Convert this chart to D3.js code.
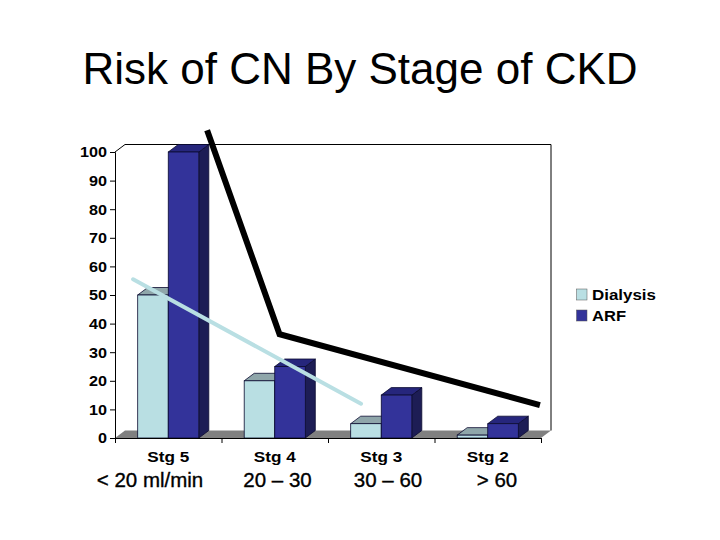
<!DOCTYPE html>
<html>
<head>
<meta charset="utf-8">
<script src="https://cdn.jsdelivr.net/npm/d3@7"></script>
<style>
  html, body { margin: 0; padding: 0; background: #fff; }
  text { font-family: "Liberation Sans", Arial, sans-serif; fill: #000; }
</style>
</head>
<body>
<div id="chart"></div>
<script>
const stages = ['Stg 5', 'Stg 4', 'Stg 3', 'Stg 2'];
const ranges = ['< 20 ml/min', '20 – 30', '30 – 60', '> 60'];
const dialysis = [50, 20, 5, 1];
const arf = [100, 25, 15, 5];
const yTicks = [0, 10, 20, 30, 40, 50, 60, 70, 80, 90, 100];
const seriesNames = ['Dialysis', 'ARF'];

// hand drawn trend lines on the slide, x in category units, y in axis units
const blackLineX = [0.865, 1.545, 3.99];
const blackLineY = [107.6, 36.3, 11.5];
const blueLineX = [0.17, 2.31];
const blueLineY = [55.5, 12];

const width = 720, height = 540;
const colorDialysis = '#b9dfe3', colorDialysisTop = '#8fa6aa';
const colorArf = '#33339a', colorArfTop = '#26267c', colorArfSide = '#1d1d55';
const depthX = 10, depthY = 7.5;

const svg = d3.select('#chart')
    .append('svg')
    .attr('width', width)
    .attr('height', height)
    .style('display', 'block');

const xScale = d3.scaleBand().domain(stages).range([115, 541]);
const xPos = d3.scaleLinear().domain([0, 4]).range([115, 541]);
const seriesScale = d3.scaleBand().domain(seriesNames).range([22.7, 83.8]);
const yScale = d3.scaleLinear().domain([0, 100]).range([438, 152]);

/* Title */
svg.append('text')
    .text('Risk of CN By Stage of CKD')
    .attr('x', 360)
    .attr('y', 84)
    .attr('text-anchor', 'middle')
    .style('font-size', '44px');

/* Floor */
const y0 = yScale(0);
svg.append('path')
    .attr('d', d3.line()([[115, y0], [115 + depthX, y0 - depthY], [541 + depthX, y0 - depthY], [541, y0]]) + 'Z')
    .attr('fill', '#808080');

/* Back wall outline */
const yTop = yScale(100);
svg.append('path')
    .attr('d', d3.line()([[115, yTop], [115 + depthX, yTop - depthY], [541 + depthX, yTop - depthY], [541 + depthX, y0 - depthY]]))
    .attr('fill', 'none')
    .attr('stroke', '#000')
    .attr('stroke-width', 1);

/* Bars */
function drawBar(stage, name, value, front, top, side) {
    const x = xScale(stage) + seriesScale(name);
    const w = seriesScale.bandwidth();
    const y = yScale(value);
    const g = svg.append('g').attr('stroke', '#0a0a30').attr('stroke-width', 0.8);
    g.append('path')
        .attr('d', d3.line()([[x + w, y], [x + w + depthX, y - depthY], [x + w + depthX, y0 - depthY], [x + w, y0]]) + 'Z')
        .attr('fill', side);
    g.append('path')
        .attr('d', d3.line()([[x, y], [x + depthX, y - depthY], [x + w + depthX, y - depthY], [x + w, y]]) + 'Z')
        .attr('fill', top);
    g.append('rect')
        .attr('x', x)
        .attr('y', y)
        .attr('width', w)
        .attr('height', y0 - y)
        .attr('fill', front);
}

stages.forEach((s, i) => {
    drawBar(s, 'Dialysis', dialysis[i], colorDialysis, colorDialysisTop, colorDialysisTop);
    drawBar(s, 'ARF', arf[i], colorArf, colorArfTop, colorArfSide);
});

/* y axis */
const yAxis = d3.axisLeft(yScale).tickValues(yTicks).tickSize(5).tickPadding(3);
svg.append('g')
    .attr('transform', 'translate(115,0)')
    .call(yAxis)
    .call(g => g.selectAll('path, line').attr('stroke', '#000'))
    .selectAll('text')
    .attr('textLength', d => String(d).length * 9)
    .attr('lengthAdjust', 'spacingAndGlyphs')
    .style('font-size', '15.5px')
    .style('font-weight', 'bold');

/* x axis */
const xAxis = d3.axisBottom(xPos).tickValues([0, 1, 2, 3, 4]).tickSize(5).tickFormat('');
svg.append('g')
    .attr('transform', `translate(0,${y0})`)
    .call(xAxis)
    .call(g => g.selectAll('path, line').attr('stroke', '#000'));

/* Stage labels */
svg.selectAll('.stage')
    .data(stages)
    .enter()
    .append('text')
    .attr('class', 'stage')
    .text(d => d)
    .attr('x', d => xScale(d) + xScale.bandwidth() / 2)
    .attr('y', 462)
    .attr('text-anchor', 'middle')
    .attr('textLength', 42)
    .attr('lengthAdjust', 'spacingAndGlyphs')
    .style('font-size', '15.5px')
    .style('font-weight', 'bold');

/* eGFR labels were placed by hand on the slide */
const rangeX = d3.scaleOrdinal().domain(ranges).range([150, 277.5, 388, 497]);
svg.selectAll('.range')
    .data(ranges)
    .enter()
    .append('text')
    .attr('class', 'range')
    .text(d => d)
    .attr('x', d => rangeX(d))
    .attr('y', 487)
    .attr('text-anchor', 'middle')
    .attr('stroke', '#000')
    .attr('stroke-width', 0.35)
    .style('font-size', '20.5px');

/* Trend lines */
const lineGen = d3.line().x(d => xPos(d[0])).y(d => yScale(d[1]));
svg.append('path')
    .attr('d', lineGen(d3.zip(blueLineX, blueLineY)))
    .attr('fill', 'none')
    .attr('stroke', colorDialysis)
    .attr('stroke-width', 4)
    .attr('stroke-linecap', 'round');
svg.append('path')
    .attr('d', lineGen(d3.zip(blackLineX, blackLineY)))
    .attr('fill', 'none')
    .attr('stroke', '#000')
    .attr('stroke-width', 6)
    .attr('stroke-linejoin', 'miter')
    .attr('stroke-linecap', 'butt');

/* Legend */
const legendY = d3.scalePoint().domain(seriesNames).range([289, 310]);
const legendColor = d3.scaleOrdinal().domain(seriesNames).range([colorDialysis, colorArf]);
const legendWidth = d3.scaleOrdinal().domain(seriesNames).range([64, 34]);
seriesNames.forEach(name => {
    svg.append('rect')
        .attr('x', 576.5)
        .attr('y', legendY(name))
        .attr('width', 10.5)
        .attr('height', 11)
        .attr('fill', legendColor(name))
        .attr('stroke', '#555')
        .attr('stroke-width', 0.5);
    svg.append('text')
        .text(name)
        .attr('x', 592)
        .attr('y', legendY(name) + 11)
        .attr('textLength', legendWidth(name))
        .attr('lengthAdjust', 'spacingAndGlyphs')
        .style('font-size', '15.5px')
        .style('font-weight', 'bold');
});
</script>
</body>
</html>
